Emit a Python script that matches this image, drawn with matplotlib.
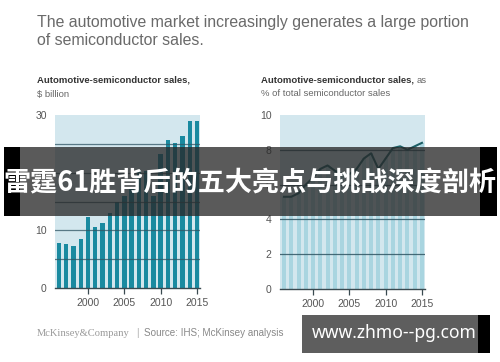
import matplotlib
matplotlib.use("Agg")
import matplotlib.pyplot as plt
from matplotlib.patches import Rectangle

# ---- data ----
years = list(range(1996, 2016))
sales_bn = [7.8, 7.6, 7.3, 8.5, 12.3, 10.5, 11.2, 13.0, 15.0, 16.0,
            17.5, 20.5, 20.3, 16.0, 23.3, 25.6, 25.2, 26.4, 29.0, 29.0]
share_pct = [5.3, 5.3, 5.5, 6.0, 6.4, 6.9, 7.1, 6.8, 6.6, 6.6,
             6.9, 7.5, 7.8, 6.9, 7.5, 8.1, 8.2, 8.0, 8.2, 8.4]
xticks = [2000, 2005, 2010, 2015]
left_yticks = [0, 10, 20, 30]
left_grid = [5, 10, 15, 20, 25]
right_yticks = [0, 2, 4, 6, 8, 10]
right_grid = [2, 4, 6, 8]

title_lines = ["The automotive market increasingly generates a large portion",
               "of semiconductor sales."]
banner = "雷霆61胜背后的五大亮点与挑战深度剖析"
watermark = "www.zhmo--pg.com"

W, H = 500, 362
fig = plt.figure(figsize=(W / 100, H / 100), dpi=100)
fig.patch.set_facecolor("white")

def fx(px):
    return px / W

def fy(py):
    return 1 - py / H

SANS = ["Liberation Sans", "DejaVu Sans"]
BG = "#d3e7ee"
BAR = "#1a8aa0"
GRID = "#2f5563"

def style_axes(ax, yticks, ylim):
    ax.set_facecolor(BG)
    for s in ["top", "right", "left"]:
        ax.spines[s].set_visible(False)
    ax.spines["bottom"].set_color("#3a4a50")
    ax.spines["bottom"].set_linewidth(1.0)
    ax.set_ylim(*ylim)
    ax.set_xlim(1995.45, 2015.42)
    ax.set_xticks(xticks)
    ax.set_xticklabels([str(t) for t in xticks], fontsize=7.5, color="#555555", family=SANS)
    ax.set_yticks(yticks)
    ax.set_yticklabels([str(t) for t in yticks], fontsize=7.5, color="#555555", family=SANS)
    ax.tick_params(axis="x", length=4, width=0.9, color="#3a4a50", pad=3)
    ax.tick_params(axis="y", length=0, pad=6)

# ---- left chart ----
ax1 = fig.add_axes([fx(55), fy(288), 145 / W, 173 / H])
style_axes(ax1, left_yticks, (0, 30))
ax1.bar(years, sales_bn, width=0.6, color=BAR, zorder=2)
for g in left_grid:
    ax1.axhline(g, color=GRID, lw=0.9, alpha=0.75, zorder=3)

# ---- right chart ----
ax2 = fig.add_axes([fx(280), fy(289), 145 / W, 174 / H])
style_axes(ax2, right_yticks, (0, 10))
ax2.bar(years, share_pct, width=0.55, color="#a9d5e0", zorder=2)
for g in right_grid:
    ax2.axhline(g, color=GRID, lw=0.9, alpha=0.85, zorder=3)
ax2.plot(years, share_pct, color="#1d5f66", lw=1.5, zorder=4)

# ---- texts ----
fig.text(fx(37), fy(27.5), title_lines[0], fontsize=11.4, color="#6a6a6a", family=SANS,
         va="baseline", ha="left")
fig.text(fx(37), fy(45), title_lines[1], fontsize=11.4, color="#6a6a6a", family=SANS,
         va="baseline", ha="left")
fig.text(fx(37), fy(96.5), "$ billion", fontsize=6.8, color="#666666", family=SANS, va="baseline")
fig.text(fx(37), fy(83), "Automotive-semiconductor sales,", fontsize=6.8, color="#333333",
         family=SANS, weight="bold", va="baseline")
t = fig.text(fx(261), fy(83), "Automotive-semiconductor sales,", fontsize=6.8, color="#333333",
             family=SANS, weight="bold", va="baseline")
fig.canvas.draw()
bb = t.get_window_extent()
fig.text((bb.x1 + 2.5) / W, fy(83), "as", fontsize=6.8, color="#666666", family=SANS, va="baseline")
fig.text(fx(261), fy(96.5), "% of total semiconductor sales", fontsize=6.8, color="#666666",
         family=SANS, va="baseline")

# footer
fig.text(fx(37), fy(336), "McKinsey&Company", fontsize=7.6, color="#9a9a9a",
         family=["Liberation Serif", "DejaVu Serif"], va="baseline")
fig.text(fx(136), fy(336), "|", fontsize=7, color="#aaaaaa", family=SANS, va="baseline")
fig.text(fx(144), fy(336), "Source: IHS; McKinsey analysis", fontsize=7.1, color="#888888",
         family=SANS, va="baseline")

# ---- banner overlay ----
fig.add_artist(Rectangle((fx(20), fy(216)), (480 - 20) / W, (216 - 147) / H,
                         transform=fig.transFigure, facecolor="#282828", alpha=0.77,
                         edgecolor="none", zorder=10))
fig.add_artist(Rectangle((fx(4), fy(216)), 16 / W, (216 - 147) / H,
                         transform=fig.transFigure, facecolor="black", edgecolor="none", zorder=10))
fig.add_artist(Rectangle((fx(480), fy(216)), 17 / W, (216 - 147) / H,
                         transform=fig.transFigure, facecolor="black", edgecolor="none", zorder=10))
fig.text(0.5, fy(183), banner, fontsize=19.5, color="white", weight="bold",
         family=["Noto Sans CJK SC", "DejaVu Sans"], ha="center", va="center", zorder=11)

# ---- watermark box ----
fig.add_artist(Rectangle((fx(302), fy(353)), (478 - 302) / W, (353 - 315) / H,
                         transform=fig.transFigure, facecolor="#5e5e5e", edgecolor="none", zorder=10))
fig.add_artist(Rectangle((fx(478), fy(353)), 12 / W, (353 - 315) / H,
                         transform=fig.transFigure, facecolor="black", edgecolor="none", zorder=10))
fig.text(fx(394), fy(333), watermark, fontsize=12.6, color="white", weight="bold",
         family=["Noto Sans", "DejaVu Sans"], ha="center", va="center", zorder=11)

fig.savefig("out.png", dpi=100, facecolor="white")
